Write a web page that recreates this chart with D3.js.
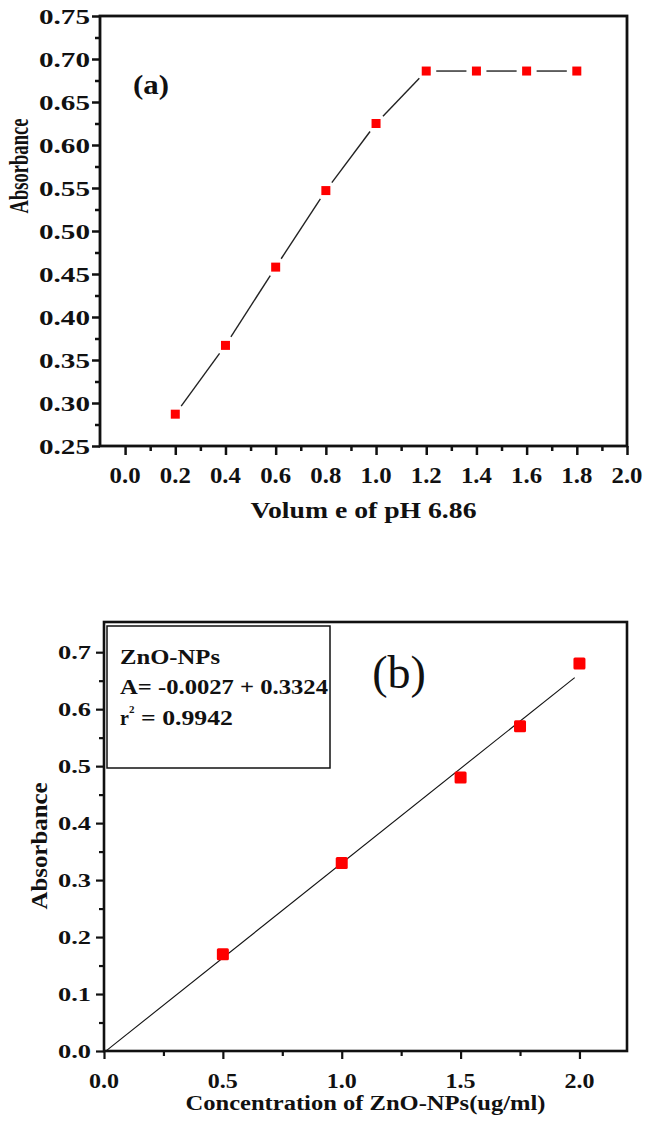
<!DOCTYPE html>
<html><head><meta charset="utf-8">
<script src="https://cdn.jsdelivr.net/npm/d3@7"></script>
<style>
html,body{margin:0;padding:0;background:#fff;}
svg text{font-family:"Liberation Serif","Times New Roman",serif;fill:#111;}
</style></head>
<body>
<svg id="c" width="648" height="1122"></svg>
<script>
// ---------- data: panel (a) ----------
const volumeA = [0.2, 0.4, 0.6, 0.8, 1.0, 1.2, 1.4, 1.6, 1.8];
const absorbA = [0.287, 0.367, 0.458, 0.547, 0.625, 0.686, 0.686, 0.686, 0.686];
const xTicksA = [0.0, 0.2, 0.4, 0.6, 0.8, 1.0, 1.2, 1.4, 1.6, 1.8, 2.0];
const xMinorA = [0.1, 0.3, 0.5, 0.7, 0.9, 1.1, 1.3, 1.5, 1.7, 1.9];
const yTicksA = [0.25, 0.30, 0.35, 0.40, 0.45, 0.50, 0.55, 0.60, 0.65, 0.70, 0.75];
const yMinorA = [0.275, 0.325, 0.375, 0.425, 0.475, 0.525, 0.575, 0.625, 0.675, 0.725];

// ---------- data: panel (b) ----------
const concB = [0.5, 1.0, 1.5, 1.75, 2.0];
const absorbB = [0.17, 0.33, 0.48, 0.57, 0.68];
const fitIntercept = -0.0027;
const fitSlope = 0.3324;
const fitRange = [0.01, 1.98];
const xTicksB = [0.0, 0.5, 1.0, 1.5, 2.0];
const xMinorB = [0.25, 0.75, 1.25, 1.75];
const yTicksB = [0.0, 0.1, 0.2, 0.3, 0.4, 0.5, 0.6, 0.7];
const yMinorB = [0.05, 0.15, 0.25, 0.35, 0.45, 0.55, 0.65];
const legendLines = ["ZnO-NPs", "A= -0.0027 + 0.3324", "r", "= 0.9942"];

const svg = d3.select("#c");

function ticks(g, axis, vals, size, w){
  g.call(axis.tickValues(vals).tickSize(size).tickFormat(""))
   .call(s=>s.select(".domain").remove())
   .call(s=>s.selectAll("line").attr("stroke","#111").attr("stroke-width",w));
}

// ================= Panel (a) =================
const A = {l:100, r:627, t:16, b:446};
const xa = d3.scaleLinear().domain([-0.1, 2.0]).range([A.l, A.r]);
const ya = d3.scaleLinear().domain([0.25, 0.75]).range([A.b, A.t]);
const ga = svg.append("g");

ticks(ga.append("g").attr("transform",`translate(${A.l},0)`), d3.axisLeft(ya), yTicksA, 8, 2.5);
ticks(ga.append("g").attr("transform",`translate(${A.l},0)`), d3.axisLeft(ya), yMinorA, 5, 2.5);
ticks(ga.append("g").attr("transform",`translate(0,${A.b})`), d3.axisBottom(xa), xTicksA, 9, 2.5);
ticks(ga.append("g").attr("transform",`translate(0,${A.b})`), d3.axisBottom(xa), xMinorA, 5, 2.5);

ga.append("rect").attr("x",A.l).attr("y",A.t).attr("width",A.r-A.l).attr("height",A.b-A.t)
  .attr("fill","none").attr("stroke","#111").attr("stroke-width",2.8);

ga.selectAll(".yl").data(yTicksA).join("text")
  .attr("x",90).attr("y",d=>ya(d)+7.5).attr("text-anchor","end")
  .attr("font-size",22).attr("font-weight","bold")
  .attr("textLength",51).attr("lengthAdjust","spacingAndGlyphs")
  .text(d=>d3.format(".2f")(d));
ga.selectAll(".xl").data(xTicksA).join("text")
  .attr("x",d=>xa(d)).attr("y",483).attr("text-anchor","middle")
  .attr("font-size",23).attr("font-weight","bold")
  .attr("textLength",31).attr("lengthAdjust","spacingAndGlyphs")
  .text(d=>d3.format(".1f")(d));

ga.append("text").attr("x",(A.l+A.r)/2).attr("y",518).attr("text-anchor","middle")
  .attr("font-size",23).attr("font-weight","bold")
  .attr("textLength",226).attr("lengthAdjust","spacingAndGlyphs")
  .text("Volum e of pH 6.86");
ga.append("text").attr("transform","translate(28,166) rotate(-90)").attr("text-anchor","middle")
  .attr("font-size",27).attr("font-weight","bold")
  .attr("textLength",95).attr("lengthAdjust","spacingAndGlyphs")
  .text("Absorbance");
ga.append("text").attr("x",133).attr("y",94)
  .attr("font-size",28).attr("font-weight","bold")
  .attr("textLength",36).attr("lengthAdjust","spacingAndGlyphs")
  .text("(a)");

const ptsA = volumeA.map((v,i)=>[xa(v), ya(absorbA[i])]);
const segs = d3.pairs(ptsA).map(([p,q])=>{
  const dx=q[0]-p[0], dy=q[1]-p[1], L=Math.hypot(dx,dy), g=10;
  return [[p[0]+dx/L*g, p[1]+dy/L*g],[q[0]-dx/L*g, q[1]-dy/L*g]];
});
ga.selectAll(".seg").data(segs).join("path")
  .attr("d",d=>d3.line()(d)).attr("stroke","#222").attr("stroke-width",1.4).attr("fill","none");
ga.selectAll(".ma").data(volumeA).join("rect")
  .attr("x",(d)=>xa(d)-4.5).attr("y",(d,i)=>ya(absorbA[i])-4.5)
  .attr("width",9).attr("height",9).attr("fill","#ff0000");

// ================= Panel (b) =================
const B = {l:104, r:627, t:622, b:1051};
const xb = d3.scaleLinear().domain([0, 2.2]).range([B.l, B.r]);
const yb = d3.scaleLinear().domain([0, 0.753]).range([B.b, B.t]);
const gb = svg.append("g");

ticks(gb.append("g").attr("transform",`translate(${B.l},0)`), d3.axisLeft(yb), yTicksB, 8, 2.2);
ticks(gb.append("g").attr("transform",`translate(${B.l},0)`), d3.axisLeft(yb), yMinorB, 5, 2.2);
ticks(gb.append("g").attr("transform",`translate(0,${B.b})`), d3.axisBottom(xb), xTicksB, 8, 2.2);
ticks(gb.append("g").attr("transform",`translate(0,${B.b})`), d3.axisBottom(xb), xMinorB, 5, 2.2);

gb.append("rect").attr("x",B.l).attr("y",B.t).attr("width",B.r-B.l).attr("height",B.b-B.t)
  .attr("fill","none").attr("stroke","#111").attr("stroke-width",2.6);

gb.selectAll(".yl").data(yTicksB).join("text")
  .attr("x",91).attr("y",d=>yb(d)+6.5).attr("text-anchor","end")
  .attr("font-size",19).attr("font-weight","bold")
  .attr("textLength",33).attr("lengthAdjust","spacingAndGlyphs")
  .text(d=>d3.format(".1f")(d));
gb.selectAll(".xl").data(xTicksB).join("text")
  .attr("x",d=>xb(d)).attr("y",1088).attr("text-anchor","middle")
  .attr("font-size",20).attr("font-weight","bold")
  .attr("textLength",30).attr("lengthAdjust","spacingAndGlyphs")
  .text(d=>d3.format(".1f")(d));

gb.append("text").attr("x",(B.l+B.r)/2).attr("y",1110).attr("text-anchor","middle")
  .attr("font-size",20).attr("font-weight","bold")
  .attr("textLength",360).attr("lengthAdjust","spacingAndGlyphs")
  .text("Concentration of ZnO-NPs(ug/ml)");
gb.append("text").attr("transform","translate(47,846) rotate(-90)").attr("text-anchor","middle")
  .attr("font-size",24).attr("font-weight","bold")
  .attr("textLength",127).attr("lengthAdjust","spacingAndGlyphs")
  .text("Absorbance");
gb.append("text").attr("x",399).attr("y",688).attr("text-anchor","middle")
  .attr("font-size",46)
  .text("(b)");

const fitPts = fitRange.map(x=>[xb(x), yb(fitIntercept + fitSlope*x)]);
gb.append("path").attr("d",d3.line()(fitPts)).attr("stroke","#111").attr("stroke-width",1.1).attr("fill","none");

gb.selectAll(".mb").data(concB).join("rect")
  .attr("x",d=>xb(d)-6).attr("y",(d,i)=>yb(absorbB[i])-6)
  .attr("width",12).attr("height",12).attr("rx",1.5).attr("fill","#ff0000");

const lg = gb.append("g");
lg.append("rect").attr("x",107).attr("y",626).attr("width",223).attr("height",142)
  .attr("fill","#fff").attr("stroke","#111").attr("stroke-width",1.5);
lg.append("text").attr("x",120).attr("y",664).attr("font-size",20).attr("font-weight","bold")
  .attr("textLength",100).attr("lengthAdjust","spacingAndGlyphs").text(legendLines[0]);
lg.append("text").attr("x",120).attr("y",694).attr("font-size",20).attr("font-weight","bold")
  .attr("textLength",208).attr("lengthAdjust","spacingAndGlyphs").text(legendLines[1]);
lg.append("text").attr("x",120).attr("y",725).attr("font-size",20).attr("font-weight","bold").text(legendLines[2]);
lg.append("text").attr("x",129).attr("y",713).attr("font-size",11).attr("font-weight","bold").text("2");
lg.append("text").attr("x",141).attr("y",725).attr("font-size",20).attr("font-weight","bold")
  .attr("textLength",92).attr("lengthAdjust","spacingAndGlyphs").text(legendLines[3]);
</script>
</body></html>
